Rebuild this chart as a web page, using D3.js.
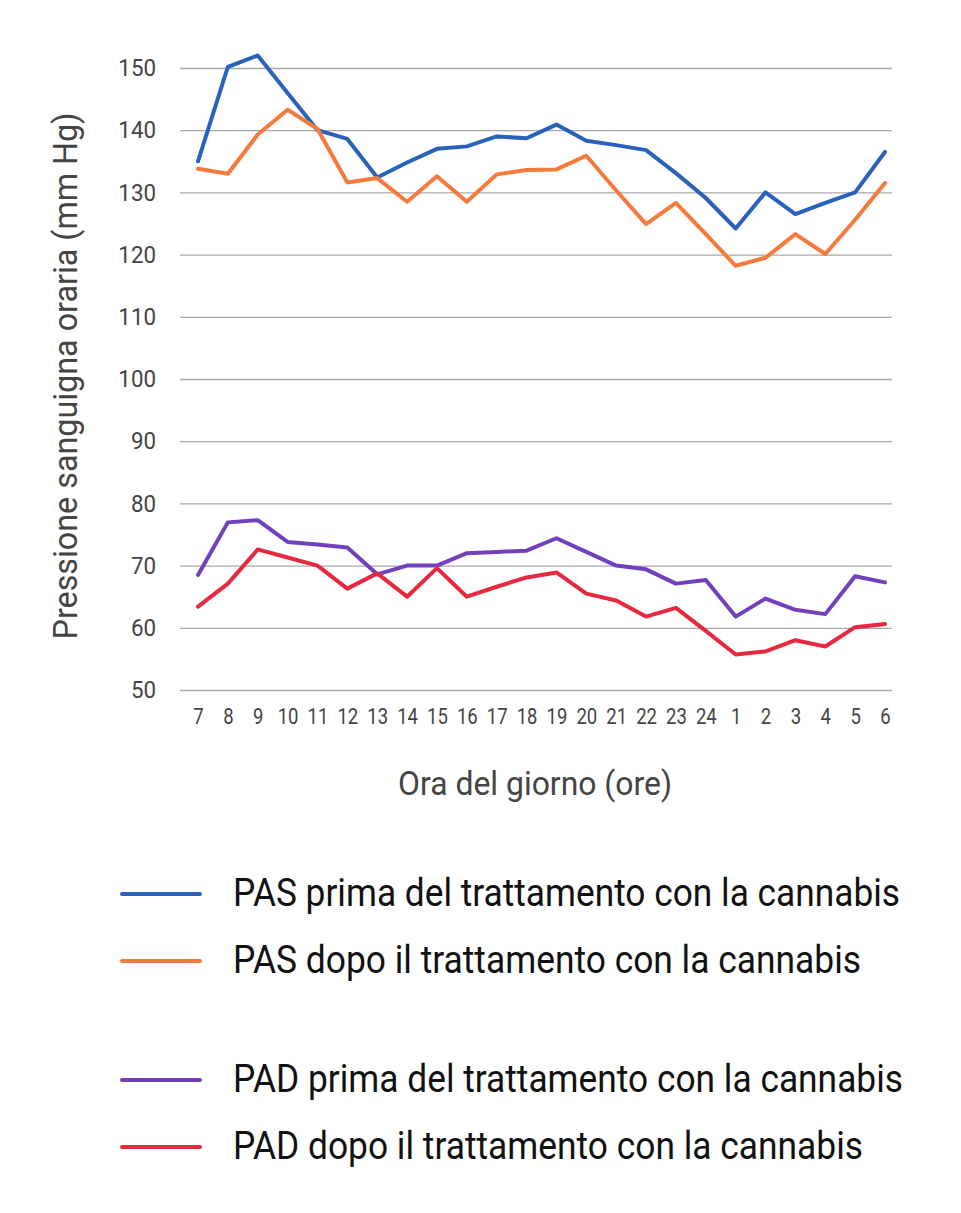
<!DOCTYPE html>
<html>
<head>
<meta charset="utf-8">
<script src="https://cdn.jsdelivr.net/npm/d3@7"></script>
<style>
  html, body { margin: 0; padding: 0; background: #fff; }
  svg { display: block; font-family: Roboto, "Open Sans", sans-serif; }
</style>
</head>
<body>
<svg id="chart" width="961" height="1213"></svg>
<script>
// ---- data ----
const hours = ["7","8","9","10","11","12","13","14","15","16","17","18","19","20","21","22","23","24","1","2","3","4","5","6"];
const pasPrima = [135.0,150.2,152.0,146.0,140.0,138.6,132.4,134.8,137.0,137.4,139.0,138.7,140.9,138.3,137.6,136.8,133.1,129.1,124.2,130.0,126.5,128.3,130.0,136.5];
const pasDopo  = [133.8,133.0,139.3,143.3,140.2,131.6,132.3,128.5,132.6,128.5,132.9,133.6,133.7,135.9,130.3,124.9,128.3,123.3,118.2,119.5,123.3,120.1,125.6,131.5];
const padPrima = [68.5,76.95,77.3,73.8,73.4,72.9,68.6,70.0,70.0,72.0,72.2,72.4,74.4,72.2,70.0,69.4,67.1,67.7,61.8,64.7,62.9,62.2,68.3,67.3];
const padDopo  = [63.4,67.1,72.6,71.3,70.0,66.3,68.75,65.0,69.6,65.0,66.6,68.1,68.9,65.5,64.4,61.8,63.2,59.5,55.7,56.2,58.0,57.0,60.1,60.6];
const yTicks = [50,60,70,80,90,100,110,120,130,140,150];
const seriesNames = [
  "PAS prima del trattamento con la cannabis",
  "PAS dopo il trattamento con la cannabis",
  "PAD prima del trattamento con la cannabis",
  "PAD dopo il trattamento con la cannabis"
];
const seriesColors = ["#2a62b9", "#f57a3b", "#7240bd", "#e8283f"];
const yTitle = "Pressione sanguigna oraria (mm Hg)";
const xTitle = "Ora del giorno (ore)";

const seriesValues = [pasPrima, pasDopo, padPrima, padDopo];

// ---- layout ----
const svg = d3.select("#chart");
const plotLeft = 180, plotRight = 892, plotTop = 68, plotBottom = 690;

const x = d3.scalePoint().domain(hours).range([198, 885]);
const y = d3.scaleLinear().domain([50, 150]).range([plotBottom, plotTop]);

function condense(sel, factor) {
  sel.each(function() {
    const len = this.getComputedTextLength();
    d3.select(this).attr("textLength", len * factor).attr("lengthAdjust", "spacingAndGlyphs");
  });
}

// grid lines + y ticks
const yAxis = d3.axisLeft(y).tickValues(yTicks).tickSize(plotLeft - plotRight).tickPadding(24).tickFormat(d3.format("d"));
const gy = svg.append("g").attr("transform", `translate(${plotLeft},0)`).call(yAxis);
gy.select(".domain").remove();
gy.selectAll(".tick line").attr("x1", 0).attr("x2", plotRight - plotLeft).attr("stroke", "#a9a9a9").attr("stroke-width", 1.3);
gy.selectAll(".tick text").attr("x", -24).attr("fill", "#444").style("font-size", "24px").style("font-family", "Roboto");
condense(gy.selectAll(".tick text"), 0.93);

// x ticks
const xAxis = d3.axisBottom(x).tickSize(0).tickPadding(0);
const gx = svg.append("g").attr("transform", `translate(0,${plotBottom})`).call(xAxis);
gx.select(".domain").remove();
gx.selectAll(".tick text").attr("dy", 0).attr("y", 34).attr("fill", "#444").style("font-size", "21.5px").style("font-family", "Roboto");
condense(gx.selectAll(".tick text"), 0.86);

// lines
const line = d3.line().x((d, i) => x(hours[i])).y(d => y(d));
svg.append("g").selectAll("path")
  .data(seriesValues)
  .join("path")
  .attr("d", d => line(d))
  .attr("fill", "none")
  .attr("stroke", (d, i) => seriesColors[i])
  .attr("stroke-width", 4)
  .attr("stroke-linejoin", "round")
  .attr("stroke-linecap", "round");

// axis titles
svg.append("text")
  .attr("transform", "translate(77,376) rotate(-90)")
  .attr("text-anchor", "middle")
  .attr("fill", "#444")
  .style("font-size", "33px")
  .attr("textLength", 527).attr("lengthAdjust", "spacingAndGlyphs")
  .text(yTitle);

svg.append("text")
  .attr("x", 535).attr("y", 795)
  .attr("text-anchor", "middle")
  .attr("fill", "#444")
  .style("font-size", "33px")
  .attr("textLength", 274).attr("lengthAdjust", "spacingAndGlyphs")
  .text(xTitle);

// legend
const legendY = [894, 961, 1080, 1147];
const legendLen = [667, 628, 670, 630];
const lg = svg.append("g").selectAll("g")
  .data(seriesNames)
  .join("g")
  .attr("transform", (d, i) => `translate(0,${legendY[i]})`);
lg.append("line")
  .attr("x1", 122).attr("x2", 200)
  .attr("stroke", (d, i) => seriesColors[i])
  .attr("stroke-width", 4)
  .attr("stroke-linecap", "round");
lg.append("text")
  .attr("x", 233).attr("y", 12)
  .attr("fill", "#111")
  .style("font-size", "39px")
  .attr("textLength", (d, i) => legendLen[i])
  .attr("lengthAdjust", "spacingAndGlyphs")
  .text(d => d);
</script>
</body>
</html>
